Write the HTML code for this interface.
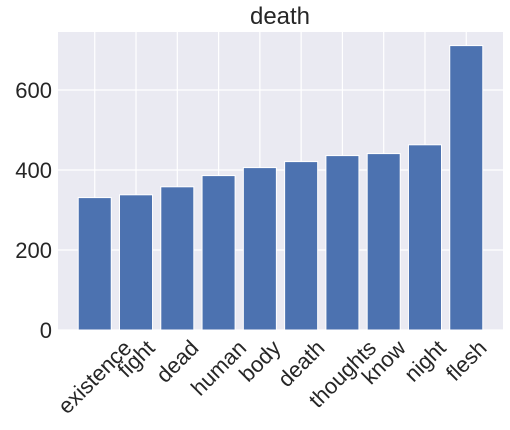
<!DOCTYPE html>
<html><head><meta charset="utf-8"><style>
html,body{margin:0;padding:0;background:#fff;}
svg{display:block;font-family:"Liberation Sans",Arial,sans-serif;}
</style></head><body>
<svg id="chart" width="510" height="430" viewBox="0 0 510 430">
<text x="280" y="24" text-anchor="middle" font-size="24" fill="#262626">death</text>
<rect x="58" y="32" width="445" height="298" fill="#eaeaf2"/>
<g id="grid"></g><g id="bars"></g><g id="yticks"></g><g id="xticks"></g>
</svg>
<script>
const categories = ["existence","fight","dead","human","body","death","thoughts","know","night","flesh"];
const values = [331, 338, 358, 386, 406, 421, 436, 441, 463, 711];
const yTicks = [0, 200, 400, 600];
const NS = "http://www.w3.org/2000/svg";
const L = 58, R = 503, T = 32, B = 330;
const yMax = 745;
const y = v => B - (v / yMax) * (B - T);
const xMin = -0.89, xMax = categories.length - 1 + 0.89;
const x = i => L + (i - xMin) / (xMax - xMin) * (R - L);
const bw = 0.8 * (x(1) - x(0));
function mk(tag, attrs, parent) {
  const e = document.createElementNS(NS, tag);
  for (const k in attrs) e.setAttribute(k, attrs[k]);
  parent.appendChild(e);
  return e;
}
const grid = document.getElementById('grid');
const bars = document.getElementById('bars');
const yt = document.getElementById('yticks');
const xt = document.getElementById('xticks');
yTicks.forEach(t => {
  const g = mk('line', {x1: L, x2: R, y1: y(t), y2: y(t), stroke: '#fff', 'stroke-width': 1.2}, grid);
  
  
  const lb = mk('text', {x: 52, y: y(t) + 8, 'text-anchor': 'end', 'font-size': 22, fill: '#262626'}, yt);
  lb.textContent = t;
  
  
});
categories.forEach((c, i) => {
  const g = mk('line', {x1: x(i), x2: x(i), y1: T, y2: B, stroke: '#fff', 'stroke-width': 1.2}, grid);
  
  
});
categories.forEach((c, i) => {
  const r = mk('rect', {x: x(i) - bw / 2, y: y(values[i]), width: bw, height: B - y(values[i]), fill: '#4c72b0', stroke: '#fff', 'stroke-width': 1}, bars);
  
  
  const t = mk('text', {'text-anchor': 'middle', 'dominant-baseline': 'central', 'font-size': 22, fill: '#262626'}, xt);
  t.textContent = c;
  
  
  const w = t.getComputedTextLength();
  const h = (w + 20) * Math.SQRT1_2;
  t.setAttribute('transform', 'translate(' + x(i) + ',' + (337 + h / 2) + ') rotate(-45)');
});
</script>
</body></html>
